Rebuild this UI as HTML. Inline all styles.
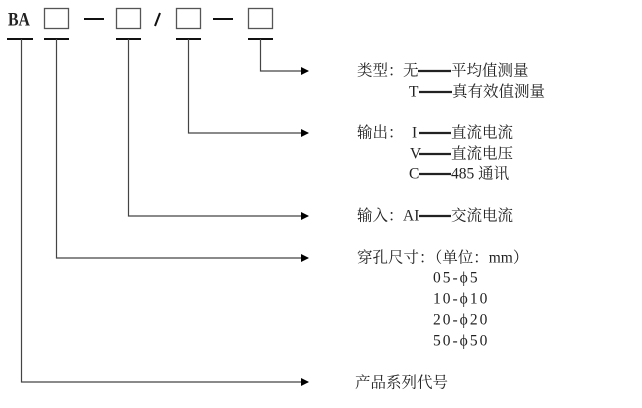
<!DOCTYPE html>
<html><head><meta charset="utf-8"><style>
html,body{margin:0;padding:0;background:#fff;}
svg{display:block;}
text{font-family:"Liberation Serif","Noto Serif CJK SC",serif;font-size:15.5px;fill:#222;dominant-baseline:central;}
</style></head><body>
<svg width="642" height="408" viewBox="0 0 642 408" xmlns="http://www.w3.org/2000/svg">
<defs><marker id="a" markerWidth="8" markerHeight="8" refX="7" refY="4" orient="auto" markerUnits="userSpaceOnUse"><path d="M0,0 L8,4 L0,8 Z" fill="#000"/></marker></defs>
<text x="8" y="20" style="font-size:19px;font-weight:bold;" textLength="22" lengthAdjust="spacingAndGlyphs">BA</text>
<g fill="none" stroke="#555" stroke-width="1.3">
<rect x="44.5" y="8.5" width="24" height="20"/>
<rect x="116.5" y="8.5" width="24" height="20"/>
<rect x="176.5" y="8.5" width="24" height="20"/>
<rect x="248.5" y="8.5" width="24" height="20"/>
</g>
<g stroke="#111" stroke-width="2">
<line x1="84" y1="19" x2="104" y2="19"/>
<line x1="213" y1="19" x2="233" y2="19"/>
<line x1="160" y1="13" x2="155" y2="26"/>
<line x1="7" y1="39" x2="33" y2="39"/>
<line x1="44" y1="39" x2="69" y2="39"/>
<line x1="116" y1="39" x2="141" y2="39"/>
<line x1="176" y1="39" x2="201" y2="39"/>
<line x1="248" y1="39" x2="273" y2="39"/>
</g>
<g fill="none" stroke="#444" stroke-width="1.2">
<polyline points="260.5,39 260.5,71 308,71" marker-end="url(#a)"/>
<polyline points="188.5,39 188.5,133 308,133" marker-end="url(#a)"/>
<polyline points="128.5,39 128.5,216 308,216" marker-end="url(#a)"/>
<polyline points="56.5,39 56.5,258 308,258" marker-end="url(#a)"/>
<polyline points="21.5,39 21.5,382 308,382" marker-end="url(#a)"/>
</g>
<g stroke="#222" stroke-width="2.2">
<line x1="418" y1="71" x2="451" y2="71"/>
<line x1="419" y1="92" x2="452" y2="92"/>
<line x1="419" y1="133" x2="451" y2="133"/>
<line x1="419" y1="154" x2="451" y2="154"/>
<line x1="419" y1="174" x2="451" y2="174"/>
<line x1="419" y1="216" x2="451" y2="216"/>
</g>
<text x="357" y="71">类型：</text><text x="403" y="71">无</text><text x="451" y="71">平均值测量</text>
<text x="409" y="92">T</text><text x="452" y="92">真有效值测量</text>
<text x="357" y="133">输出：</text><text x="412" y="133">I</text><text x="451" y="133">直流电流</text>
<text x="410" y="154">V</text><text x="451" y="154">直流电压</text>
<text x="409" y="174">C</text><text x="451" y="174">485 通讯</text>
<text x="357" y="216">输入：</text><text x="403" y="216">AI</text><text x="451" y="216">交流电流</text>
<text x="357" y="258">穿孔尺寸：（单位：mm）</text>
<text x="433" y="278" style="letter-spacing:2px">05-ϕ5</text>
<text x="433" y="299" style="letter-spacing:2px">10-ϕ10</text>
<text x="433" y="320" style="letter-spacing:2px">20-ϕ20</text>
<text x="433" y="341" style="letter-spacing:2px">50-ϕ50</text>
<text x="355" y="383">产品系列代号</text>
</svg>
</body></html>
